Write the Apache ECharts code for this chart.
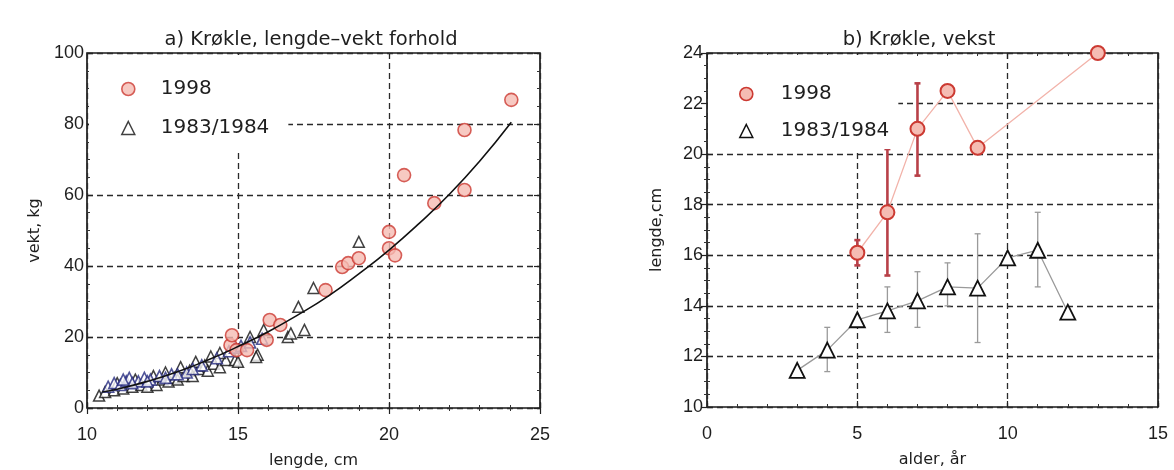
<!DOCTYPE html>
<html>
<head>
<meta charset="utf-8">
<script src="https://cdn.jsdelivr.net/npm/echarts@6/dist/echarts.min.js"></script>
<style>html,body{margin:0;padding:0;background:#fff}#c{width:1174px;height:470px}</style>
</head>
<body>
<div id="c"></div>
<script>
// ---- Panel a) length-weight ----
var pts1998 = [[14.75,17.7],[14.8,20.5],[14.95,16.3],[15.3,16.3],[15.95,19.2],[16.05,24.8],[16.4,23.4],[17.9,33.2],[18.45,39.7],[18.65,40.8],[19.0,42.2],[20.0,49.6],[20.0,45.0],[20.2,43.0],[20.5,65.6],[21.5,57.7],[22.5,78.3],[22.5,61.4],[24.05,86.8]];
var ptsOldBlack = [[10.4,3.5],[10.6,4.5],[10.9,5.0],[11.2,5.5],[11.5,6.0],[11.8,6.5],[12.0,6.0],[12.3,6.5],[12.5,8.0],[12.7,7.5],[12.9,8.5],[13.0,8.0],[13.2,9.0],[13.4,10.5],[13.5,9.0],[13.7,11.0],[13.9,12.0],[14.0,10.5],[14.2,12.5],[14.4,11.5],[14.6,13.5],[14.9,13.5],[11.6,8.0],[12.2,9.0],[13.1,11.5],[13.6,13.0],[14.1,14.5],[14.4,15.5],[11.0,7.0],[12.6,10.0],[15.0,13.0],[15.65,15.0],[15.6,14.4],[15.85,22.0],[15.4,20.0],[16.65,20.0],[16.75,21.0],[17.2,22.0],[17.0,28.5],[17.5,33.8],[19.0,46.8]];
var ptsOldNavy = [[10.7,6.0],[10.9,7.0],[11.1,6.5],[11.3,7.5],[11.4,8.5],[11.7,7.5],[11.9,8.5],[12.1,8.0],[12.4,9.0],[12.8,9.5],[13.3,10.0],[13.8,12.0],[14.3,14.0],[14.7,16.0],[14.9,17.0],[15.1,17.5],[15.4,18.5],[15.8,19.5],[12.0,7.5],[11.5,7.0],[11.2,8.0],[12.6,8.5],[13.0,9.5],[13.5,11.0]];
var fitCurve = [[10.5,4.5],[11,5.3],[12,7.5],[13,10.2],[14,13.5],[15,17.3],[16,21.5],[17,26.3],[18,31.6],[19,37.8],[20,44.5],[21,52],[22,60.2],[23,69.5],[24.05,80.5]];
var xTicksA = [10,15,20,25];
var yTicksA = [0,20,40,60,80,100];

// ---- Panel b) growth ----
var ageA = [5,6,7,8,9,13];
var lenA = [16.1,17.7,21.0,22.5,20.25,24.0];
var errLowA = [15.6,15.2,19.15,null,null,null];
var errHighA = [16.6,20.2,22.8,null,null,null];
var ageB = [3,4,5,6,7,8,9,10,11,12];
var lenB = [11.45,12.25,13.45,13.8,14.2,14.75,14.7,15.9,16.2,13.75];
var errLowB = [null,11.4,null,12.95,13.15,14.0,12.55,null,14.75,null];
var errHighB = [null,13.15,null,14.75,15.35,15.7,16.85,null,17.7,null];
var xTicksB = [0,5,10,15];
var yTicksB = [10,12,14,16,18,20,22,24];

var FONT = 'Liberation Sans';
var WFONT = 'DejaVu Sans';
var TXT = '#1e1e1e';
var circleStyle = {color:'#f5bcb3', borderColor:'#cc3a32', borderWidth:1.6};
var triStyle = {color:'#ffffff', borderColor:'#111111', borderWidth:1.5};

function zip(a,b){ return a.map(function(v,i){ return [v,b[i]]; }); }
function errData(x,lo,hi){ var r=[]; x.forEach(function(v,i){ if(lo[i]!=null) r.push([v,lo[i],hi[i]]); }); return r; }

function errSeries(data, xi, yi, color, width){
  return {
    type:'custom', xAxisIndex:xi, yAxisIndex:yi, z:2, silent:true,
    renderItem:function(params, api){
      var x = api.value(0), lo = api.value(1), hi = api.value(2);
      var p1 = api.coord([x,lo]), p2 = api.coord([x,hi]);
      var c = 3;
      var st = {stroke:color, lineWidth:width};
      return {type:'group', children:[
        {type:'line', shape:{x1:p1[0],y1:p1[1],x2:p2[0],y2:p2[1]}, style:st},
        {type:'line', shape:{x1:p1[0]-c,y1:p1[1],x2:p1[0]+c,y2:p1[1]}, style:st},
        {type:'line', shape:{x1:p2[0]-c,y1:p2[1],x2:p2[0]+c,y2:p2[1]}, style:st}
      ]};
    },
    data:data
  };
}

function baseAxis(opts){
  var a = {
    type:'value', min:opts.min, max:opts.max, interval:opts.interval,
    gridIndex:opts.grid, position:opts.position,
    axisLine:{show:false},
    axisTick:{show:true, inside:true, length:6, lineStyle:{color:'#222', width:1.2}},
    minorTick:{show:true, splitNumber:opts.minor, length:3, lineStyle:{color:'#333', width:1}},
    splitLine:{show:false},
    axisLabel:{show:false}
  };
  if (opts.labels){
    a.axisLabel = {show:true, fontFamily:FONT, fontSize:18, color:TXT, margin:opts.margin};
    a.splitLine = {show:true, lineStyle:{color:'#2a2a2a', width:1.3, type:[6,4]}};
    a.name = opts.name; a.nameLocation='middle'; a.nameGap=opts.nameGap;
    a.nameTextStyle = {fontFamily:WFONT, fontSize:16, color:TXT};
  }
  return a;
}

var option = {
  animation:false,
  backgroundColor:'#fff',
  title:[
    {text:'a) Krøkle, lengde–vekt forhold', left:306, top:25, textAlign:'center', textStyle:{fontFamily:WFONT, fontSize:19.5, fontWeight:'normal', color:TXT}},
    {text:'b) Krøkle, vekst', left:914, top:25, textAlign:'center', textStyle:{fontFamily:WFONT, fontSize:19.5, fontWeight:'normal', color:TXT}}
  ],
  grid:[
    {left:87, top:53, width:453, height:355, show:true, borderColor:'#1a1a1a', borderWidth:1.7, backgroundColor:'transparent', outerBoundsMode:'none', containLabel:false},
    {left:707, top:53, width:451, height:354, show:true, borderColor:'#1a1a1a', borderWidth:1.7, backgroundColor:'transparent', outerBoundsMode:'none', containLabel:false}
  ],
  xAxis:[
    baseAxis({grid:0, position:'bottom', min:xTicksA[0], max:xTicksA[xTicksA.length-1], interval:5, minor:5, labels:true, margin:18, name:'lengde, cm', nameGap:45}),
    baseAxis({grid:0, position:'top', min:xTicksA[0], max:xTicksA[xTicksA.length-1], interval:5, minor:5}),
    baseAxis({grid:1, position:'bottom', min:xTicksB[0], max:xTicksB[xTicksB.length-1], interval:5, minor:5, labels:true, margin:18, name:'alder, år', nameGap:45}),
    baseAxis({grid:1, position:'top', min:xTicksB[0], max:xTicksB[xTicksB.length-1], interval:5, minor:5})
  ],
  yAxis:[
    baseAxis({grid:0, position:'left', min:yTicksA[0], max:yTicksA[yTicksA.length-1], interval:20, minor:4, labels:true, margin:3, name:'vekt, kg', nameGap:44}),
    baseAxis({grid:0, position:'right', min:yTicksA[0], max:yTicksA[yTicksA.length-1], interval:20, minor:4}),
    baseAxis({grid:1, position:'left', min:yTicksB[0], max:yTicksB[yTicksB.length-1], interval:2, minor:4, labels:true, margin:4, name:'lengde,cm', nameGap:42}),
    baseAxis({grid:1, position:'right', min:yTicksB[0], max:yTicksB[yTicksB.length-1], interval:2, minor:4})
  ],
  legend:[
    {orient:'vertical', left:89, top:55, padding:[24,19,12,32], itemGap:19, itemWidth:13, itemHeight:13,
     backgroundColor:'#fff', selectedMode:false, z:5,
     textStyle:{fontFamily:WFONT, fontSize:20, color:TXT, padding:[0,0,0,21]},
     data:[{name:'1998', icon:'circle', itemStyle:circleStyle},{name:'1983/1984', icon:'triangle', itemStyle:triStyle}]},
    {orient:'vertical', left:708, top:55, padding:[29,9,8,31], itemGap:17, itemWidth:13, itemHeight:13,
     backgroundColor:'#fff', selectedMode:false, z:5,
     formatter:function(n){ return n.trim(); },
     textStyle:{fontFamily:WFONT, fontSize:20, color:TXT, padding:[0,0,0,23]},
     data:[{name:'1998 ', icon:'circle', itemStyle:circleStyle},{name:'1983/1984 ', icon:'triangle', itemStyle:triStyle}]}
  ],
  series:[
    {name:'1983/1984', type:'scatter', xAxisIndex:0, yAxisIndex:0, symbol:'triangle', symbolSize:11, itemStyle:triStyle, data:ptsOldBlack, z:2},
    {name:'1983/1984', type:'scatter', xAxisIndex:0, yAxisIndex:0, symbol:'triangle', symbolSize:11, itemStyle:{color:'#ffffff', borderColor:'#262a80', borderWidth:1.6}, data:ptsOldNavy, z:2},
    {name:'1998', type:'scatter', xAxisIndex:0, yAxisIndex:0, symbol:'circle', symbolSize:13, itemStyle:circleStyle, data:pts1998, z:3},
    {name:'fit', type:'line', xAxisIndex:0, yAxisIndex:0, smooth:0.5, symbol:'none', lineStyle:{color:'#111', width:1.6}, data:fitCurve, z:4},

    {name:'1998 ', type:'line', xAxisIndex:2, yAxisIndex:2, symbol:'circle', symbolSize:14, lineStyle:{color:'#f2b3aa', width:1.3}, itemStyle:{color:'#f5bcb3', borderColor:'#cc3a32', borderWidth:2}, data:zip(ageA,lenA), z:4},
    {name:'1983/1984 ', type:'line', xAxisIndex:2, yAxisIndex:2, symbol:'triangle', symbolSize:15, lineStyle:{color:'#9a9a9a', width:1.3}, itemStyle:{color:'#ffffff', borderColor:'#111', borderWidth:1.8}, data:zip(ageB,lenB), z:4},
    errSeries(errData(ageA,errLowA,errHighA), 2, 2, '#b84048', 2.6),
    errSeries(errData(ageB,errLowB,errHighB), 2, 2, '#9a9a9a', 1.3)
  ]
};
var chart = echarts.init(document.getElementById('c'), null, {renderer:'canvas'});
chart.setOption(option);
</script>
</body>
</html>
